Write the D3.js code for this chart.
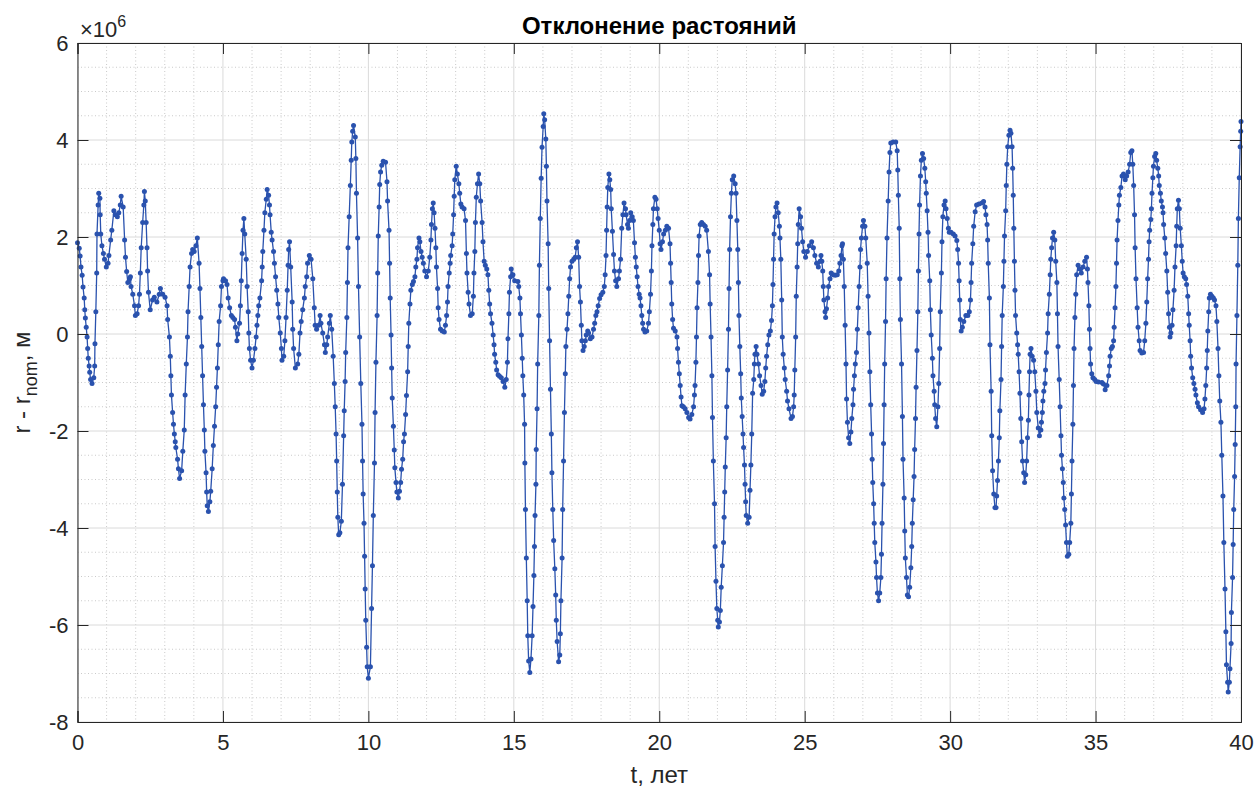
<!DOCTYPE html>
<html><head><meta charset="utf-8">
<script src="https://cdn.jsdelivr.net/npm/d3@7"></script>
<style>
html,body{margin:0;padding:0;background:#fff;}
svg{display:block;font-family:"Liberation Sans",Arial,Helvetica,sans-serif;}
</style></head>
<body><svg id="c" width="1257" height="789"></svg>
<script>
// ---- data (t in years, r - r_nom in units of 1e6 m) ----
const samples = [
[0.00,1.88],[0.06,1.77],[0.09,1.61],[0.12,1.38],[0.16,1.21],[0.19,0.97],[0.23,0.74],[0.25,0.50],[0.27,0.33],[0.30,0.14],[0.33,-0.06],[0.35,-0.30],[0.37,-0.50],[0.40,-0.66],[0.42,-0.79],[0.45,-0.94],[0.50,-1.02],[0.56,-0.90],[0.59,-0.66],[0.60,-0.20],[0.63,0.46],[0.66,1.26],[0.67,2.06],[0.71,2.66],[0.73,2.90],[0.77,2.80],[0.78,2.46],[0.80,2.06],[0.84,1.82],[0.89,1.66],[0.93,1.54],[0.99,1.38],[1.05,1.46],[1.08,1.62],[1.14,1.94],[1.18,2.14],[1.25,2.54],[1.30,2.46],[1.37,2.42],[1.42,2.50],[1.47,2.66],[1.50,2.84],[1.57,2.62],[1.62,1.94],[1.65,1.58],[1.69,1.29],[1.73,1.06],[1.79,1.14],[1.82,1.18],[1.84,0.98],[1.90,0.82],[1.96,0.58],[1.99,0.38],[2.05,0.42],[2.10,0.58],[2.13,0.82],[2.16,1.26],[2.19,1.78],[2.24,2.30],[2.28,2.66],[2.30,2.94],[2.33,2.74],[2.36,2.30],[2.39,1.78],[2.41,1.30],[2.44,0.86],[2.50,0.50],[2.58,0.70],[2.64,0.76],[2.73,0.66],[2.81,0.82],[2.85,0.94],[2.93,0.82],[3.01,0.76],[3.08,0.58],[3.10,0.30],[3.16,-0.06],[3.19,-0.46],[3.21,-0.86],[3.23,-1.26],[3.27,-1.62],[3.30,-1.86],[3.33,-2.06],[3.36,-2.22],[3.38,-2.34],[3.44,-2.58],[3.47,-2.78],[3.51,-2.98],[3.58,-2.82],[3.62,-2.42],[3.67,-1.98],[3.70,-1.26],[3.74,-0.62],[3.78,-0.06],[3.80,0.46],[3.84,0.98],[3.87,1.38],[3.92,1.66],[3.96,1.74],[4.01,1.70],[4.07,1.82],[4.12,1.98],[4.18,1.46],[4.21,0.94],[4.24,0.34],[4.27,-0.26],[4.30,-0.86],[4.33,-1.46],[4.36,-1.98],[4.38,-2.42],[4.42,-2.86],[4.44,-3.26],[4.46,-3.54],[4.50,-3.66],[4.55,-3.46],[4.58,-3.24],[4.63,-2.78],[4.67,-2.30],[4.71,-1.90],[4.75,-1.50],[4.78,-1.10],[4.81,-0.70],[4.84,-0.22],[4.87,0.26],[4.92,0.58],[4.95,0.98],[5.00,1.10],
[5.02,1.14],[5.09,1.10],[5.14,1.02],[5.18,0.74],[5.23,0.54],[5.29,0.38],[5.34,0.34],[5.40,0.30],[5.43,0.14],[5.48,-0.14],[5.51,0.00],[5.57,0.22],[5.60,0.58],[5.63,1.10],[5.66,1.66],[5.69,2.14],[5.72,2.38],[5.75,2.06],[5.80,1.54],[5.83,0.98],[5.87,0.46],[5.89,0.02],[5.91,-0.30],[5.95,-0.54],[6.00,-0.70],[6.05,-0.54],[6.10,-0.30],[6.14,-0.06],[6.17,0.18],[6.20,0.38],[6.23,0.58],[6.27,0.74],[6.33,1.10],[6.35,1.38],[6.37,1.70],[6.41,2.14],[6.44,2.50],[6.49,2.78],[6.52,2.98],[6.57,2.86],[6.60,2.66],[6.62,2.46],[6.66,2.10],[6.69,1.94],[6.74,1.70],[6.77,1.46],[6.81,1.18],[6.85,0.90],[6.89,0.62],[6.92,0.34],[6.97,0.02],[7.01,-0.30],[7.03,-0.54],[7.09,-0.46],[7.13,-0.14],[7.17,0.34],[7.21,0.90],[7.24,1.42],[7.26,1.74],[7.29,1.90],[7.33,1.38],[7.38,0.66],[7.40,0.10],[7.43,-0.30],[7.49,-0.70],[7.57,-0.62],[7.61,-0.42],[7.65,0.02],[7.69,0.26],[7.74,0.50],[7.80,0.74],[7.83,0.98],[7.88,1.18],[7.91,1.46],[7.97,1.62],[8.03,1.54],[8.09,1.14],[8.14,0.54],[8.17,0.18],[8.22,0.10],[8.29,0.18],[8.34,0.38],[8.37,0.22],[8.43,0.02],[8.49,-0.22],[8.52,-0.38],[8.57,-0.22],[8.60,-0.06],[8.66,0.22],[8.69,0.38],[8.74,0.10],[8.79,-0.46],[8.83,-1.02],[8.86,-1.50],[8.89,-2.06],[8.91,-2.62],[8.93,-3.26],[8.95,-3.78],[8.98,-4.14],[9.02,-4.10],[9.07,-3.86],[9.11,-3.10],[9.15,-2.10],[9.17,-1.58],[9.20,-0.98],[9.22,-0.38],[9.26,0.34],[9.28,1.06],[9.30,1.78],[9.34,2.42],[9.38,3.06],[9.41,3.58],[9.43,3.96],[9.46,4.18],[9.49,4.30],[9.55,4.06],[9.57,3.62],[9.59,2.90],[9.63,1.98],[9.66,0.98],[9.70,-0.06],[9.74,-1.02],[9.78,-1.86],[9.80,-2.62],[9.82,-3.30],[9.85,-3.90],[9.87,-4.58],[9.89,-5.26],[9.91,-5.90],[9.94,-6.46],[9.96,-6.86],[10.00,-7.10],
[10.07,-6.86],[10.11,-5.66],[10.14,-4.78],[10.17,-3.74],[10.21,-2.66],[10.23,-1.62],[10.26,-0.58],[10.30,0.38],[10.32,1.26],[10.34,2.02],[10.37,2.62],[10.39,3.08],[10.42,3.34],[10.46,3.48],[10.51,3.56],[10.59,3.54],[10.64,3.14],[10.66,2.74],[10.71,2.14],[10.73,1.46],[10.75,0.74],[10.78,-0.02],[10.80,-0.70],[10.82,-1.32],[10.86,-1.90],[10.89,-2.39],[10.91,-2.76],[10.95,-3.06],[10.98,-3.26],[11.03,-3.38],[11.07,-3.24],[11.11,-3.06],[11.14,-2.79],[11.18,-2.58],[11.21,-2.22],[11.24,-2.06],[11.28,-1.66],[11.31,-1.27],[11.35,-0.78],[11.37,-0.26],[11.39,0.22],[11.43,0.62],[11.46,0.90],[11.51,1.02],[11.55,1.08],[11.60,1.18],[11.63,1.38],[11.67,1.54],[11.69,1.78],[11.74,1.98],[11.77,1.90],[11.81,1.70],[11.85,1.58],[11.89,1.46],[11.94,1.30],[12.00,1.18],[12.06,1.30],[12.11,1.58],[12.15,1.94],[12.17,2.26],[12.20,2.58],[12.23,2.70],[12.26,2.50],[12.29,2.18],[12.32,1.78],[12.34,1.38],[12.38,0.94],[12.40,0.54],[12.43,0.30],[12.48,0.10],[12.54,0.06],[12.61,0.04],[12.65,0.18],[12.69,0.38],[12.72,0.66],[12.74,0.98],[12.78,1.26],[12.81,1.46],[12.83,1.62],[12.88,1.82],[12.90,2.06],[12.93,2.46],[12.95,2.84],[12.97,3.18],[13.02,3.46],[13.06,3.30],[13.11,3.10],[13.14,2.90],[13.18,2.68],[13.22,2.62],[13.29,2.58],[13.34,2.34],[13.37,1.66],[13.39,1.26],[13.43,0.86],[13.46,0.62],[13.51,0.38],[13.57,0.42],[13.61,0.78],[13.63,1.26],[13.66,1.70],[13.68,2.30],[13.71,2.82],[13.75,3.10],[13.79,3.30],[13.83,3.10],[13.86,2.74],[13.91,2.30],[13.94,1.90],[13.98,1.50],[14.02,1.42],[14.07,1.34],[14.11,1.22],[14.14,0.90],[14.17,0.62],[14.20,0.42],[14.25,0.22],[14.29,-0.02],[14.32,-0.22],[14.34,-0.42],[14.38,-0.58],[14.41,-0.74],[14.46,-0.84],[14.51,-0.87],[14.57,-0.90],[14.63,-0.98],[14.69,-1.10],[14.74,-0.94],[14.78,-0.58],[14.80,-0.10],[14.83,0.42],[14.85,0.86],[14.89,1.18],[14.91,1.34],[14.97,1.22],[15.03,1.10],
[15.14,1.08],[15.17,0.98],[15.21,0.74],[15.23,0.42],[15.26,-0.02],[15.29,-0.50],[15.31,-0.86],[15.34,-1.26],[15.37,-1.86],[15.38,-2.66],[15.40,-3.62],[15.43,-4.62],[15.46,-5.50],[15.48,-6.22],[15.51,-6.74],[15.55,-6.98],[15.59,-6.70],[15.63,-6.22],[15.66,-5.62],[15.69,-4.98],[15.71,-4.38],[15.73,-3.74],[15.76,-3.10],[15.77,-2.38],[15.80,-1.54],[15.82,-0.62],[15.86,0.38],[15.88,1.42],[15.91,2.38],[15.94,3.21],[15.97,3.85],[16.01,4.28],[16.03,4.54],[16.06,4.42],[16.10,4.02],[16.12,3.46],[16.14,2.74],[16.18,1.86],[16.20,0.94],[16.23,-0.14],[16.26,-1.14],[16.29,-2.06],[16.31,-2.86],[16.34,-3.62],[16.37,-4.26],[16.41,-4.84],[16.44,-5.38],[16.46,-5.90],[16.49,-6.34],[16.54,-6.76],[16.58,-6.62],[16.60,-6.18],[16.62,-5.50],[16.66,-4.62],[16.68,-3.62],[16.71,-2.62],[16.74,-1.62],[16.77,-0.82],[16.79,-0.26],[16.83,0.10],[16.86,0.42],[16.89,0.78],[16.92,1.14],[16.95,1.38],[17.00,1.50],[17.06,1.54],[17.11,1.58],[17.15,1.78],[17.19,1.90],[17.23,1.58],[17.26,0.98],[17.29,0.66],[17.32,0.18],[17.34,-0.14],[17.38,-0.34],[17.42,-0.26],[17.46,-0.14],[17.49,-0.02],[17.54,0.06],[17.57,0.02],[17.63,-0.10],[17.69,-0.06],[17.74,0.10],[17.78,0.22],[17.82,0.38],[17.86,0.46],[17.90,0.58],[17.95,0.73],[18.00,0.81],[18.06,0.86],[18.11,0.98],[18.14,1.22],[18.17,1.62],[18.19,2.14],[18.21,2.62],[18.23,3.02],[18.27,3.30],[18.30,3.18],[18.33,2.98],[18.35,2.58],[18.39,2.12],[18.43,1.64],[18.46,1.30],[18.50,1.10],[18.54,0.98],[18.60,1.14],[18.63,1.30],[18.67,1.54],[18.71,2.18],[18.75,2.46],[18.79,2.70],[18.84,2.58],[18.86,2.46],[18.91,2.26],[18.94,2.18],[18.98,2.34],[19.02,2.50],[19.07,2.42],[19.11,2.34],[19.15,1.88],[19.18,1.58],[19.21,1.38],[19.24,1.18],[19.27,0.98],[19.31,0.82],[19.34,0.74],[19.37,0.58],[19.40,0.38],[19.43,0.22],[19.46,0.10],[19.51,0.04],[19.57,0.06],[19.63,0.22],[19.66,0.46],[19.70,0.82],[19.73,1.30],[19.75,1.82],[19.78,2.26],[19.80,2.58],[19.85,2.82],[19.89,2.78],[19.93,2.58],[19.96,2.38],[20.00,2.14],[20.03,1.86],
[20.06,1.74],[20.11,1.90],[20.15,2.06],[20.21,2.14],[20.26,2.22],[20.32,2.18],[20.37,1.86],[20.39,1.46],[20.41,1.06],[20.43,0.62],[20.46,0.30],[20.49,0.12],[20.55,0.06],[20.61,-0.06],[20.63,-0.30],[20.66,-0.58],[20.69,-0.82],[20.72,-1.06],[20.75,-1.30],[20.78,-1.48],[20.83,-1.50],[20.89,-1.54],[20.95,-1.62],[21.01,-1.72],[21.06,-1.75],[21.12,-1.66],[21.18,-1.50],[21.21,-1.26],[21.23,-1.06],[21.26,-0.58],[21.28,-0.06],[21.30,0.54],[21.33,1.06],[21.35,1.62],[21.37,2.02],[21.41,2.26],[21.46,2.30],[21.52,2.26],[21.58,2.22],[21.63,2.14],[21.69,1.70],[21.73,1.22],[21.75,0.62],[21.78,-0.06],[21.81,-0.86],[21.83,-1.72],[21.86,-2.62],[21.90,-3.50],[21.92,-4.38],[21.95,-5.10],[21.98,-5.66],[22.01,-5.90],[22.03,-6.04],[22.07,-5.94],[22.10,-5.70],[22.13,-5.22],[22.17,-4.78],[22.21,-4.30],[22.23,-3.78],[22.25,-3.26],[22.27,-2.74],[22.30,-2.14],[22.32,-1.50],[22.35,-0.74],[22.38,0.10],[22.40,0.94],[22.42,1.74],[22.45,2.42],[22.48,2.90],[22.51,3.18],[22.56,3.26],[22.61,3.10],[22.64,2.90],[22.67,2.34],[22.70,1.74],[22.72,1.06],[22.74,0.38],[22.77,-0.26],[22.80,-0.82],[22.82,-1.32],[22.85,-1.70],[22.88,-2.06],[22.90,-2.34],[22.93,-2.70],[22.95,-3.10],[22.97,-3.46],[22.99,-3.74],[23.04,-3.90],[23.09,-3.78],[23.12,-3.22],[23.15,-2.70],[23.18,-2.06],[23.21,-1.22],[23.25,-0.94],[23.27,-0.62],[23.29,-0.42],[23.33,-0.26],[23.36,-0.42],[23.41,-0.62],[23.45,-0.86],[23.50,-1.06],[23.54,-1.24],[23.59,-1.18],[23.63,-0.98],[23.66,-0.70],[23.69,-0.46],[23.73,-0.22],[23.77,-0.02],[23.82,0.06],[23.86,0.28],[23.89,0.58],[23.91,1.02],[23.93,1.54],[23.95,2.06],[23.98,2.42],[24.01,2.62],[24.05,2.70],[24.09,2.50],[24.13,2.22],[24.15,1.98],[24.18,1.54],[24.21,0.70],[24.23,-0.06],[24.26,-0.42],[24.30,-0.70],[24.33,-0.94],[24.38,-1.18],[24.41,-1.38],[24.46,-1.54],[24.53,-1.74],[24.58,-1.70],[24.62,-1.50],[24.64,-1.26],[24.66,-0.74],[24.69,-0.06],[24.71,0.78],[24.74,1.38],[24.76,1.86],[24.78,2.26],[24.81,2.58],[24.86,2.42],[24.89,2.18],[24.93,1.90],[24.97,1.70],
[25.03,1.58],[25.09,1.70],[25.16,1.82],[25.24,1.90],[25.30,1.78],[25.35,1.62],[25.41,1.46],[25.47,1.38],[25.53,1.50],[25.56,1.62],[25.59,1.50],[25.62,1.30],[25.64,0.98],[25.66,0.70],[25.70,0.46],[25.72,0.34],[25.75,0.52],[25.79,0.74],[25.82,0.98],[25.87,1.14],[25.91,1.26],[25.98,1.22],[26.05,1.21],[26.12,1.22],[26.17,1.30],[26.21,1.46],[26.25,1.62],[26.28,1.82],[26.30,1.86],[26.33,1.54],[26.36,0.98],[26.39,0.18],[26.42,-0.62],[26.44,-1.34],[26.47,-1.82],[26.51,-2.14],[26.55,-2.26],[26.59,-2.02],[26.62,-1.74],[26.66,-1.46],[26.68,-1.14],[26.71,-0.86],[26.74,-0.62],[26.78,-0.38],[26.81,0.10],[26.84,0.54],[26.87,0.98],[26.90,1.38],[26.92,1.74],[26.95,1.98],[26.99,2.22],[27.02,2.34],[27.07,2.22],[27.10,1.98],[27.15,1.46],[27.18,0.78],[27.21,0.02],[27.24,-0.78],[27.27,-1.46],[27.30,-2.06],[27.32,-2.58],[27.34,-3.06],[27.37,-3.50],[27.39,-3.90],[27.41,-4.30],[27.45,-4.70],[27.47,-5.02],[27.50,-5.34],[27.54,-5.50],[27.58,-5.34],[27.62,-5.02],[27.64,-4.54],[27.66,-3.90],[27.69,-3.10],[27.71,-2.26],[27.73,-1.46],[27.75,-0.62],[27.78,0.26],[27.80,1.14],[27.83,1.98],[27.87,2.74],[27.90,3.34],[27.93,3.74],[27.96,3.94],[28.04,3.96],[28.13,3.96],[28.18,3.78],[28.20,3.38],[28.22,2.86],[28.25,2.18],[28.27,1.14],[28.29,0.30],[28.33,-0.62],[28.36,-1.70],[28.38,-2.58],[28.42,-3.38],[28.44,-4.06],[28.46,-4.62],[28.50,-5.02],[28.53,-5.38],[28.57,-5.42],[28.61,-5.22],[28.65,-4.82],[28.68,-4.38],[28.70,-3.90],[28.73,-3.42],[28.76,-2.94],[28.78,-2.38],[28.81,-1.74],[28.83,-1.10],[28.86,-0.34],[28.89,0.46],[28.91,1.30],[28.93,2.06],[28.95,2.66],[28.98,3.26],[29.01,3.58],[29.05,3.72],[29.09,3.62],[29.13,3.42],[29.16,3.14],[29.18,2.90],[29.21,2.54],[29.24,2.10],[29.26,1.62],[29.30,1.10],[29.32,0.50],[29.35,-0.02],[29.39,-0.50],[29.41,-0.86],[29.45,-1.18],[29.47,-1.46],[29.50,-1.74],[29.54,-1.91],[29.58,-1.50],[29.61,-1.02],[29.64,-0.30],[29.66,0.46],[29.70,1.26],[29.72,1.90],[29.75,2.42],[29.79,2.66],[29.83,2.74],[29.86,2.58],[29.90,2.38],[29.94,2.18],[29.97,2.10],
[30.03,2.10],[30.11,2.06],[30.17,2.02],[30.23,1.93],[30.26,1.74],[30.29,1.46],[30.31,1.10],[30.33,0.70],[30.35,0.30],[30.38,0.06],[30.42,0.14],[30.47,0.26],[30.54,0.38],[30.61,0.38],[30.66,0.46],[30.70,0.70],[30.72,1.06],[30.74,1.46],[30.78,1.86],[30.81,2.22],[30.86,2.52],[30.91,2.66],[30.99,2.68],[31.09,2.70],[31.15,2.73],[31.20,2.62],[31.23,2.46],[31.27,2.26],[31.29,1.94],[31.31,1.46],[31.35,0.74],[31.37,-0.22],[31.41,-1.18],[31.43,-2.10],[31.46,-2.82],[31.50,-3.30],[31.54,-3.58],[31.58,-3.58],[31.60,-3.34],[31.63,-3.02],[31.66,-2.62],[31.69,-2.14],[31.71,-1.58],[31.75,-0.94],[31.77,-0.26],[31.79,0.38],[31.83,0.98],[31.85,1.50],[31.87,2.02],[31.91,2.54],[31.93,3.06],[31.95,3.50],[31.98,3.86],[32.02,4.10],[32.06,4.20],[32.09,4.14],[32.13,3.86],[32.15,3.42],[32.17,2.86],[32.19,2.18],[32.21,1.50],[32.23,0.90],[32.25,0.38],[32.29,0.02],[32.32,-0.22],[32.34,-0.42],[32.37,-0.78],[32.40,-1.22],[32.43,-1.74],[32.46,-2.22],[32.49,-2.62],[32.53,-2.86],[32.56,-3.06],[32.60,-2.90],[32.63,-2.62],[32.66,-2.14],[32.69,-1.78],[32.71,-1.26],[32.73,-0.78],[32.75,-0.42],[32.78,-0.30],[32.82,-0.46],[32.87,-0.54],[32.91,-0.78],[32.95,-1.18],[32.98,-1.62],[33.03,-1.94],[33.07,-2.10],[33.12,-1.98],[33.14,-1.82],[33.17,-1.62],[33.19,-1.38],[33.22,-1.18],[33.26,-1.02],[33.28,-0.74],[33.31,-0.38],[33.35,0.02],[33.37,0.42],[33.41,0.82],[33.44,1.22],[33.46,1.54],[33.49,1.78],[33.52,1.98],[33.56,2.10],[33.60,1.94],[33.63,1.50],[33.67,1.06],[33.69,0.42],[33.71,-0.26],[33.75,-0.94],[33.78,-1.50],[33.81,-2.10],[33.83,-2.50],[33.86,-2.78],[33.89,-3.06],[33.91,-3.38],[33.94,-3.62],[33.97,-3.94],[34.00,-4.30],[34.03,-4.58],[34.08,-4.54],[34.11,-4.30],[34.15,-3.90],[34.17,-3.30],[34.19,-2.62],[34.22,-1.86],[34.24,-1.06],[34.26,-0.30],[34.29,0.34],[34.32,0.82],[34.35,1.22],[34.40,1.42],[34.46,1.34],[34.51,1.26],[34.57,1.38],[34.63,1.50],[34.69,1.58],[34.72,1.34],[34.74,1.06],[34.77,0.58],[34.79,0.10],[34.81,-0.30],[34.83,-0.62],[34.87,-0.82],[34.91,-0.90],[34.97,-0.94],
[35.02,-0.98],[35.10,-0.99],[35.22,-1.00],[35.27,-1.03],[35.33,-1.15],[35.39,-1.06],[35.45,-0.86],[35.48,-0.66],[35.50,-0.46],[35.54,-0.30],[35.58,-0.26],[35.62,-0.14],[35.64,0.14],[35.67,0.54],[35.70,0.98],[35.72,1.46],[35.74,1.94],[35.77,2.34],[35.80,2.66],[35.82,2.86],[35.87,3.02],[35.91,3.26],[35.96,3.30],[36.02,3.18],[36.07,3.26],[36.12,3.34],[36.17,3.50],[36.21,3.74],[36.25,3.78],[36.28,3.50],[36.31,3.06],[36.34,2.46],[36.36,1.78],[36.39,1.14],[36.43,0.54],[36.46,0.14],[36.50,-0.14],[36.53,-0.34],[36.59,-0.39],[36.65,-0.38],[36.69,-0.14],[36.73,0.22],[36.76,0.66],[36.79,1.14],[36.82,1.54],[36.84,1.90],[36.86,2.14],[36.90,2.36],[36.92,2.58],[36.94,2.90],[36.97,3.22],[36.99,3.46],[37.03,3.66],[37.07,3.72],[37.10,3.58],[37.14,3.42],[37.17,3.26],[37.19,3.06],[37.23,2.90],[37.26,2.74],[37.30,2.62],[37.32,2.50],[37.34,2.26],[37.38,1.98],[37.41,1.66],[37.45,1.30],[37.48,0.86],[37.51,0.42],[37.54,0.14],[37.56,-0.06],[37.59,0.02],[37.63,0.18],[37.66,0.50],[37.70,0.90],[37.73,1.38],[37.77,1.82],[37.79,2.22],[37.81,2.58],[37.85,2.76],[37.88,2.58],[37.91,2.18],[37.95,1.82],[37.98,1.50],[38.01,1.26],[38.05,1.18],[38.10,1.14],[38.13,1.02],[38.17,0.78],[38.20,0.42],[38.22,0.18],[38.25,-0.14],[38.27,-0.46],[38.30,-0.70],[38.34,-0.90],[38.38,-1.02],[38.42,-1.14],[38.45,-1.26],[38.50,-1.42],[38.54,-1.50],[38.61,-1.56],[38.68,-1.62],[38.73,-1.54],[38.76,-1.34],[38.79,-1.06],[38.82,-0.70],[38.84,-0.34],[38.86,0.06],[38.89,0.46],[38.91,0.74],[38.95,0.82],[39.00,0.78],[39.05,0.74],[39.09,0.70],[39.14,0.58],[39.17,0.26],[39.21,-0.30],[39.24,-0.86],[39.27,-1.38],[39.31,-1.82],[39.34,-2.50],[39.38,-3.34],[39.41,-4.30],[39.45,-5.26],[39.48,-6.14],[39.50,-6.82],[39.54,-7.18],[39.56,-7.38],[39.60,-7.18],[39.62,-6.90],[39.66,-6.38],[39.67,-5.74],[39.71,-5.02],[39.73,-4.34],[39.75,-3.62],[39.78,-2.94],[39.80,-2.28],[39.82,-1.50],[39.83,-0.62],[39.86,0.38],[39.89,1.42],[39.91,2.38],[39.94,3.22],[39.97,3.86],[39.99,4.18],[40.00,4.38]
];
const xTicks = [0,5,10,15,20,25,30,35,40];
const yTicks = [-8,-6,-4,-2,0,2,4,6];
const xMinorTicks = d3.range(0,41,1);
const yMinorTicks = d3.range(-8,6.01,0.5);
const titleText = "Отклонение растояний";
const xLabelText = "t, лет";

// ---- layout ----
const L=77.5, R=1241, T=43, B=722;
const svg=d3.select("#c");
const x=d3.scaleLinear().domain([0,40]).range([L,R]);
const y=d3.scaleLinear().domain([-8,6]).range([B,T]);

// minor grid (dotted)
const g=svg.append("g");
g.selectAll("line.mx").data(xMinorTicks.filter(v=>v%5!==0)).join("line")
 .attr("x1",d=>x(d)).attr("x2",d=>x(d)).attr("y1",T).attr("y2",B)
 .attr("stroke","#bdbdbd").attr("stroke-width",0.8).attr("stroke-dasharray","1,2.5");
g.selectAll("line.my").data(yMinorTicks.filter(v=>Math.abs(v%2)>1e-9)).join("line")
 .attr("x1",L).attr("x2",R).attr("y1",d=>y(d)).attr("y2",d=>y(d))
 .attr("stroke","#bdbdbd").attr("stroke-width",0.8).attr("stroke-dasharray","1,2.5");
// major grid
g.selectAll("line.gx").data(xTicks).join("line")
 .attr("x1",d=>x(d)).attr("x2",d=>x(d)).attr("y1",T).attr("y2",B)
 .attr("stroke","#dadada").attr("stroke-width",1);
g.selectAll("line.gy").data(yTicks).join("line")
 .attr("x1",L).attr("x2",R).attr("y1",d=>y(d)).attr("y2",d=>y(d))
 .attr("stroke","#dadada").attr("stroke-width",1);

// data line + markers
const col="#2a52ae";
const line=d3.line().x(d=>x(d[0])).y(d=>y(d[1]));
svg.append("path").datum(samples).attr("d",line).attr("fill","none")
 .attr("stroke",col).attr("stroke-width",1.3);
svg.append("g").selectAll("circle").data(samples).join("circle")
 .attr("cx",d=>x(d[0])).attr("cy",d=>y(d[1])).attr("r",2.5).attr("fill",col);

// axes (MATLAB style: inward ticks, box)
const fs=22;
const ax=svg.append("g").attr("transform",`translate(0,${B})`)
 .call(d3.axisBottom(x).tickValues(xTicks).tickSize(-11).tickPadding(12).tickFormat(d3.format("d")));
const axT=svg.append("g").attr("transform",`translate(0,${T})`)
 .call(d3.axisTop(x).tickValues(xTicks).tickSize(-11).tickFormat(""));
const ay=svg.append("g").attr("transform",`translate(${L},0)`)
 .call(d3.axisLeft(y).tickValues(yTicks).tickSize(-11).tickPadding(9).tickFormat(d=>d3.format("d")(d).replace("−","-")));
const ayR=svg.append("g").attr("transform",`translate(${R},0)`)
 .call(d3.axisRight(y).tickValues(yTicks).tickSize(-11).tickFormat(""));
[ax,axT,ay,ayR].forEach(a=>{
  a.select(".domain").attr("stroke","#262626").attr("stroke-width",1);
  a.selectAll(".tick line").attr("stroke","#262626").attr("stroke-width",1);
  a.selectAll(".tick text").attr("fill","#262626").style("font-size",fs+"px")
   .style("font-family",'"Liberation Sans",Arial,sans-serif');
});

// exponent label
const ex=svg.append("text").attr("x",80).attr("y",37).attr("fill","#262626")
 .style("font-size","22px");
ex.append("tspan").text("×10");
ex.append("tspan").attr("dy",-10).style("font-size","16px").text("6");

// title
svg.append("text").attr("x",(L+R)/2).attr("y",34).attr("text-anchor","middle")
 .attr("fill","#000").style("font-size","24px").style("font-weight","bold").text(titleText);
// x label
svg.append("text").attr("x",(L+R)/2).attr("y",783).attr("text-anchor","middle")
 .attr("fill","#262626").style("font-size","24px").text(xLabelText);
// y label
const yl=svg.append("text").attr("transform",`translate(30,${(T+B)/2}) rotate(-90)`)
 .attr("text-anchor","middle").attr("fill","#262626").style("font-size","24px");
yl.append("tspan").text("r - r");
yl.append("tspan").attr("dy",7).style("font-size","18px").text("nom");
yl.append("tspan").attr("dy",-7).text(", м");
</script></body></html>
